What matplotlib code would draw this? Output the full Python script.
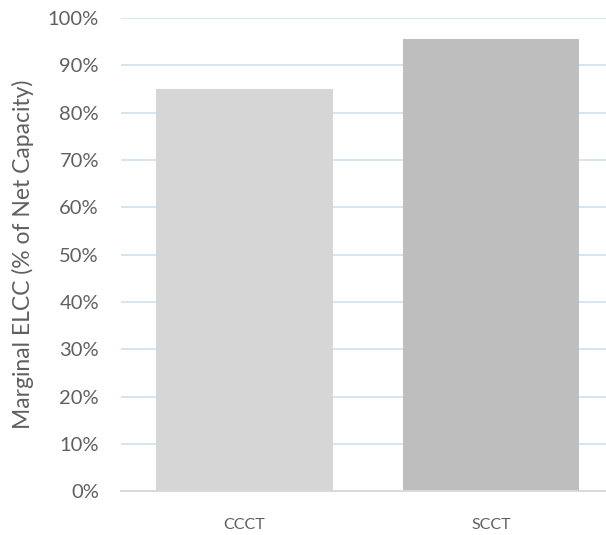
import matplotlib.pyplot as plt
import numpy as np

plt.rcParams['font.family'] = ['Lato', 'DejaVu Sans']

techs = ['CCCT', 'SCCT']
elcc = [0.85, 0.955]   # marginal ELCC, fraction of net capacity
bar_colors = ['#D6D6D6', '#BEBEBE']

fig = plt.figure(figsize=(6.06, 5.35), dpi=100)
# axes run a little past the right edge so the two bars sit where they should
ax = fig.add_axes([0.2, 0.082, 0.814, 0.884])

x = np.arange(len(techs))
ax.bar(x, elcc, width=0.715, color=bar_colors, zorder=2)

ax.set_xlim(-0.5, len(techs) - 0.5)
ax.set_ylim(0, 1.0)
ticks = np.arange(0, 1.01, 0.1)
ax.set_yticks(ticks)
ax.set_yticklabels([f'{int(round(v * 100))}%' for v in ticks])
ax.set_xticks(x)
ax.set_xticklabels(techs)

ax.yaxis.grid(True, color='#D5E4F4', linewidth=1.4, zorder=0)
ax.set_axisbelow(True)
for side in ['top', 'right', 'left']:
    ax.spines[side].set_visible(False)
ax.spines['bottom'].set_color('#D9D9D9')
ax.spines['bottom'].set_linewidth(1.4)

ax.tick_params(axis='y', length=0, labelsize=14.5, labelcolor='#606060', pad=16)
ax.tick_params(axis='x', length=0, labelsize=11.5, labelcolor='#606060', pad=19)
ax.set_ylabel('Marginal ELCC (% of Net Capacity)', fontsize=16.5, color='#606060', labelpad=10)

fig.savefig('out.png', dpi=100)
